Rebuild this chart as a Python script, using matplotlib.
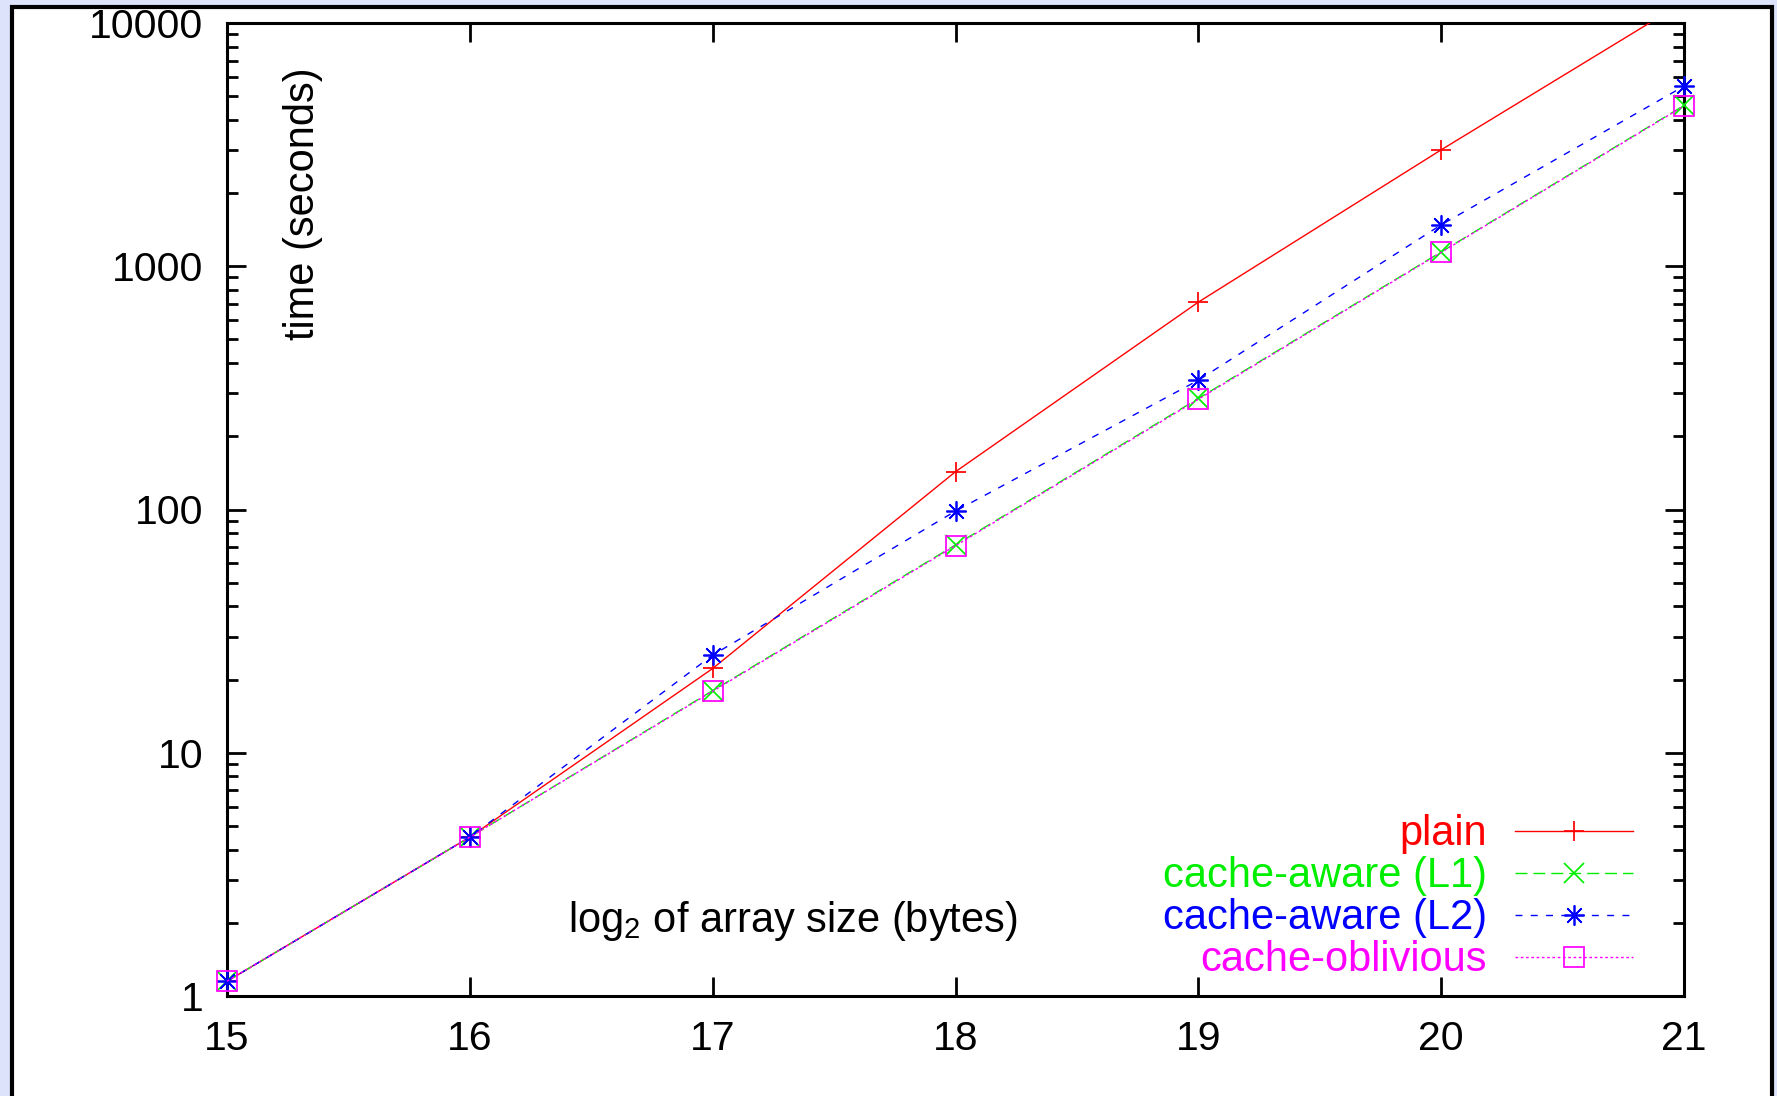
import matplotlib
matplotlib.use("Agg")
import matplotlib.pyplot as plt
from matplotlib.patches import Rectangle
from matplotlib.lines import Line2D
from matplotlib.ticker import LogLocator, NullFormatter, FixedLocator

plt.rcParams['font.family'] = ['Liberation Sans', 'DejaVu Sans']
plt.rcParams['mathtext.default'] = 'regular'

# ---- data ----
sizes = [15, 16, 17, 18, 19, 20, 21]
plain = [1.15, 4.5, 22.2, 143, 712, 3010, 12200]
cache_aware_l1 = [1.15, 4.5, 18.0, 71.5, 286, 1145, 4580]
cache_aware_l2 = [1.15, 4.5, 25.2, 98.5, 340, 1480, 5500]
cache_oblivious = [1.15, 4.5, 17.9, 71.0, 284, 1140, 4560]

series_names = ["plain", "cache-aware (L1)", "cache-aware (L2)", "cache-oblivious"]
series_values = [plain, cache_aware_l1, cache_aware_l2, cache_oblivious]
x_ticks = [15, 16, 17, 18, 19, 20, 21]
y_ticks = [1, 10, 100, 1000, 10000]
y_tick_labels = ["1", "10", "100", "1000", "10000"]
x_label = r"log$_2$ of array size (bytes)"
y_label = "time (seconds)"

# ---- styles ----
colors = ["#ff0000", "#00ee00", "#0000ff", "#ff00ff"]
markers = ["+", "x", (8, 2, 0), "s"]
dashes = [None, (8.6, 4.3), (5.0, 6.0), (1.9, 1.9)]
MS = 14.5
MEW = 1.25

W, H = 1777, 1096
fig = plt.figure(figsize=(W / 100, H / 100), dpi=100, facecolor="#dde3fb")

# outer white panel with black frame
fig.patches.append(Rectangle((12 / W, -0.05), (1772 - 12) / W, 1.05 - 7 / H,
                             transform=fig.transFigure, facecolor="white",
                             edgecolor="black", linewidth=3.0, zorder=-10))

ax = fig.add_axes([227 / W, 1 - 996 / H, (1684 - 227) / W, (996 - 23) / H])
ax.set_zorder(1)
ax.set_facecolor("white")
ax.set_yscale("log")
ax.set_xlim(15, 21)
ax.set_ylim(1, 10000)

lines = []
for name, vals, c, m, d in zip(series_names, series_values, colors, markers, dashes):
    kw = dict(color=c, lw=1.0, marker=m, markersize=MS, markeredgewidth=MEW,
              markerfacecolor="none", markeredgecolor=c, clip_on=False, zorder=3)
    if m == "s":
        kw["markersize"] = MS - 0.8
    ln, = ax.plot(sizes, vals, label=name, **kw)
    if d is not None:
        ln.set_dashes(d)
    lines.append(ln)
# plain goes past the top: clip it
lines[0].set_clip_on(True)

ax.xaxis.set_major_locator(FixedLocator(x_ticks))
ax.set_xticklabels([str(t) for t in x_ticks])
ax.yaxis.set_major_locator(FixedLocator(y_ticks))
ax.set_yticklabels(y_tick_labels)
ax.yaxis.set_minor_locator(LogLocator(base=10, subs=range(2, 10), numticks=20))
ax.yaxis.set_minor_formatter(NullFormatter())

ax.tick_params(which="both", direction="in", top=True, right=True, width=2.0,
               color="black")
ax.tick_params(which="major", length=13.5, labelsize=29.5, pad=17)
ax.tick_params(which="minor", length=8.0)
for s in ax.spines.values():
    s.set_linewidth(2.2)

ax.set_ylabel(y_label, fontsize=30)
ax.yaxis.set_label_coords((303 - 227) / (1684 - 227), (996 - 204) / 973)
ax.yaxis.label.set(ha="center", va="center", rotation_mode="anchor")

ax.set_xlabel(x_label, fontsize=30)
ax.xaxis.set_label_coords((793 - 227) / (1684 - 227), (996 - 921) / 973)
ax.xaxis.label.set(ha="center", va="center")

# legend drawn in gnuplot style: right-aligned text, sample line to the right
to_ax_x = lambda px: (px - 227) / (1684 - 227)
to_ax_y = lambda py: (996 - py) / 973
row_y = [831, 873, 915, 957]
for i, (ln, name, ry) in enumerate(zip(lines, series_names, row_y)):
    y = to_ax_y(ry)
    ax.text(to_ax_x(1487), to_ax_y(ry + 3), name, transform=ax.transAxes, ha="right",
            va="center", color=ln.get_color(), fontsize=30)
    sample = Line2D([to_ax_x(1515), to_ax_x(1633)], [y, y], transform=ax.transAxes,
                    color=ln.get_color(), lw=1.0)
    if dashes[i] is not None:
        sample.set_dashes(dashes[i])
    ax.add_line(sample)
    mk = Line2D([to_ax_x(1574)], [y], transform=ax.transAxes, color=ln.get_color(),
                marker=ln.get_marker(), markersize=ln.get_markersize(),
                markeredgewidth=MEW, markerfacecolor="none", linestyle="none")
    ax.add_line(mk)

fig.savefig("out.png", dpi=100, facecolor=fig.get_facecolor())
